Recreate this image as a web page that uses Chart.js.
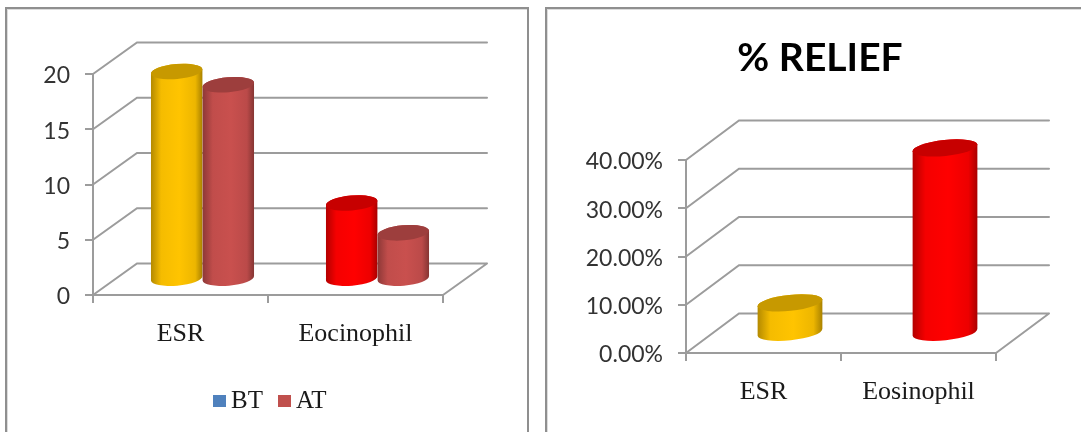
<!DOCTYPE html>
<html>
<head>
<meta charset="utf-8">
<title>ESR and Eosinophil</title>
<script src="https://cdn.jsdelivr.net/npm/chart.js@4/dist/chart.umd.min.js"></script>
<style>
    html, body { margin: 0; padding: 0; background: #fff; overflow: hidden; width: 1081px; height: 432px; }
    .panel { position: absolute; top: 7px; height: 460px; border: 2px solid #8f8f8f; box-shadow: inset 1px 1px 0 #dcdcdc; background: #fff; box-sizing: border-box; }
    #panelLeft { left: 5px; width: 524px; }
    #panelRight { left: 545px; width: 560px; }
    canvas { position: absolute; top: 0; }
</style>
</head>
<body>
<div class="panel" id="panelLeft"></div>
<div class="panel" id="panelRight"></div>
<canvas id="chartLeft" width="540" height="432" style="left:0"></canvas>
<canvas id="chartRight" width="541" height="432" style="left:540px"></canvas>

<script>
// left chart: before / after treatment
const labCategories = ['ESR', 'Eocinophil'];
const btValues = [18.8, 6.9];
const atValues = [17.6, 4.2];
const btColors = ['#ffc400', '#ff0000'];
const atColor = '#c9504e';
const labTicks = [0, 5, 10, 15, 20];
const legendLabels = ['BT', 'AT'];
const legendColors = ['#4f81bd', '#c0504d'];

// right chart: percentage relief
const reliefCategories = ['ESR', 'Eosinophil'];
const reliefValues = [6.3, 38.4];
const reliefColors = ['#ffc400', '#ff0000'];
const reliefTicks = [0, 10, 20, 30, 40];
const reliefTickLabels = ['0.00%', '10.00%', '20.00%', '30.00%', '40.00%'];

const GRID = '#9c9c9c';
const TICK_FONT = 'Lato, "Open Sans", sans-serif';
const SERIF = '"Liberation Serif", serif';

function shade(hex, f) {
    const n = parseInt(hex.slice(1), 16);
    const c = [n >> 16, (n >> 8) & 255, n & 255].map(v => Math.round(v * f));
    return 'rgb(' + c.join(',') + ')';
}

// back wall and floor, hung off the y scale's ticks
function drawWalls(chart, depth) {
    const ctx = chart.ctx;
    const area = chart.chartArea;
    const y = chart.scales.y;
    ctx.save();
    ctx.strokeStyle = GRID;
    ctx.lineWidth = 2;
    ctx.lineCap = 'round';
    ctx.beginPath();
    y.ticks.forEach(t => {
        const py = y.getPixelForValue(t.value);
        ctx.moveTo(area.left, py);
        ctx.lineTo(area.left + depth.x, py + depth.y);
        ctx.lineTo(area.right + depth.x, py + depth.y);
    });
    ctx.moveTo(area.right, area.bottom);
    ctx.lineTo(area.right + depth.x, area.bottom + depth.y);
    ctx.stroke();
    ctx.restore();
}

function drawCylinder(ctx, bar, color, depth) {
    const cx = bar.x + depth.x / 2;
    const a = bar.width / 2;
    const baseY = bar.base + depth.y / 2;
    const topY = bar.y + depth.y / 2;
    const rot = -depth.tilt * Math.PI / 180;

    const grad = ctx.createLinearGradient(cx - a, 0, cx + a, 0);
    grad.addColorStop(0, shade(color, 0.7));
    grad.addColorStop(0.2, shade(color, 0.96));
    grad.addColorStop(0.55, shade(color, 1));
    grad.addColorStop(0.86, shade(color, 0.93));
    grad.addColorStop(1, shade(color, 0.66));

    // side of the cylinder: lower half of the base, upper half of the top
    ctx.beginPath();
    ctx.ellipse(cx, baseY, a, depth.ry, rot, 0, Math.PI);
    ctx.ellipse(cx, topY, a, depth.ry, rot, Math.PI, 2 * Math.PI);
    ctx.closePath();
    ctx.fillStyle = grad;
    ctx.fill();

    ctx.beginPath();
    ctx.ellipse(cx, topY, a, depth.ry, rot, 0, 2 * Math.PI);
    ctx.fillStyle = shade(color, 0.78);
    ctx.fill();
}

const cylinderPlugin = {
    id: 'cylinders',
    beforeDatasetsDraw(chart, args, opts) {
        drawWalls(chart, opts.depth);
    },
    beforeDatasetDraw() {
        return false;
    },
    afterDatasetsDraw(chart, args, opts) {
        chart.data.datasets.forEach((ds, i) => {
            chart.getDatasetMeta(i).data.forEach((bar, j) => {
                const color = Array.isArray(ds.backgroundColor) ? ds.backgroundColor[j] : ds.backgroundColor;
                drawCylinder(chart.ctx, bar, color, opts.depth);
            });
        });
    },
    afterLayout(chart, args, opts) {
        // the title sits off the plot's centre
        if (chart.titleBlock && opts.titleCentre) {
            chart.titleBlock.left = 0;
            chart.titleBlock.right = opts.titleCentre * 2;
        }
    }
};

const legendPlugin = {
    id: 'plainLegend',
    afterDraw(chart, args, opts) {
        if (!opts.items) return;
        const ctx = chart.ctx;
        ctx.save();
        ctx.font = '25px ' + SERIF;
        ctx.textBaseline = 'middle';
        opts.items.forEach(item => {
            ctx.fillStyle = item.color;
            ctx.fillRect(item.x, opts.y - 5, 13, 12);
            ctx.fillStyle = '#1a1a1a';
            ctx.fillText(item.label, item.x + 18, opts.y + 1);
        });
        ctx.restore();
    }
};

function axes(ticks, tickLabels, yWidth, xHeight, max) {
    return {
        x: {
            afterFit(scale) { scale.height = xHeight; },
            grid: { drawOnChartArea: false, color: GRID, lineWidth: 2, tickLength: 8 },
            border: { color: GRID, width: 2 },
            ticks: {
                color: '#1a1a1a',
                font: { family: SERIF, size: 26 },
                padding: 16,
                maxRotation: 0,
                autoSkip: false
            }
        },
        y: {
            min: 0,
            max: max,
            afterFit(scale) { scale.width = yWidth; },
            afterBuildTicks(scale) { scale.ticks = ticks.map(v => ({ value: v })); },
            grid: { drawOnChartArea: false, color: GRID, lineWidth: 2, tickLength: 8 },
            border: { color: GRID, width: 2 },
            ticks: {
                color: '#333333',
                font: { family: TICK_FONT, size: 23 },
                padding: 15,
                labelOffset: 2,
                autoSkip: false,
                callback: (v, i) => tickLabels[i]
            }
        }
    };
}

new Chart(document.getElementById('chartLeft'), {
    type: 'bar',
    data: {
        labels: labCategories,
        datasets: [
            { label: legendLabels[0], data: btValues, backgroundColor: btColors, categoryPercentage: 0.59, barPercentage: 1 },
            { label: legendLabels[1], data: atValues, backgroundColor: atColor, categoryPercentage: 0.59, barPercentage: 1 }
        ]
    },
    options: {
        responsive: false,
        animation: false,
        layout: { padding: { top: 74, right: 97 } },
        scales: axes(labTicks, labTicks.map(String), 93, 137, 20),
        plugins: {
            legend: { display: false },
            tooltip: { enabled: false },
            cylinders: { depth: { x: 44, y: -31.5, ry: 7.5, tilt: 5 } },
            plainLegend: {
                y: 400,
                items: [
                    { label: legendLabels[0], color: legendColors[0], x: 213 },
                    { label: legendLabels[1], color: legendColors[1], x: 278 }
                ]
            }
        }
    },
    plugins: [cylinderPlugin, legendPlugin]
});

new Chart(document.getElementById('chartRight'), {
    type: 'bar',
    data: {
        labels: reliefCategories,
        datasets: [
            { label: '% RELIEF', data: reliefValues, backgroundColor: reliefColors, categoryPercentage: 0.42, barPercentage: 1 }
        ]
    },
    options: {
        responsive: false,
        animation: false,
        layout: { padding: { top: 35, right: 85 } },
        scales: axes(reliefTicks, reliefTickLabels, 146, 79, 40),
        plugins: {
            legend: { display: false },
            tooltip: { enabled: false },
            title: {
                display: true,
                text: '% RELIEF',
                color: '#000000',
                font: { family: TICK_FONT, size: 39, weight: 'bold' },
                padding: { top: 0, bottom: 78.2 }
            },
            cylinders: { depth: { x: 53, y: -39.5, ry: 8, tilt: 6 }, titleCentre: 280 }
        }
    },
    plugins: [cylinderPlugin]
});
</script>
</body>
</html>
